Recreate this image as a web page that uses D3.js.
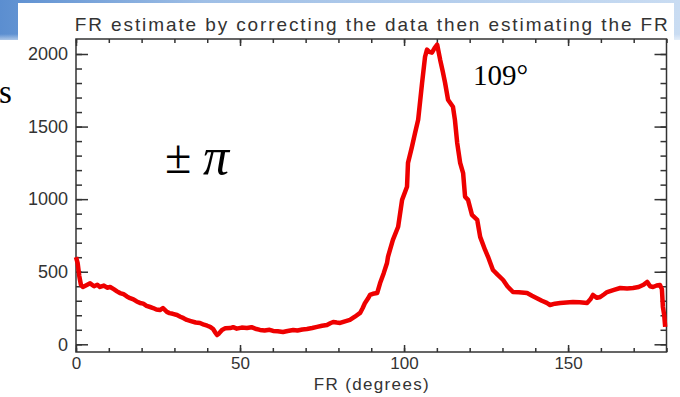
<!DOCTYPE html>
<html>
<head>
<meta charset="utf-8">
<script src="https://cdn.jsdelivr.net/npm/d3@7"></script>
<style>
  body { margin: 0; background: #fff; }
  svg { display: block; }
</style>
</head>
<body>
<svg id="chart"></svg>
<script>
// Data
let frDegrees = [0, 0.5, 1.0, 1.5, 2.1, 3, 4.3, 5.5, 6.5, 7.3, 8.5, 9.5, 10.4, 11.5, 12.5, 13.4, 14.5, 15.5, 16.5, 17.5,
  18.5, 19.5, 20.5, 21.5, 22.6, 23.5, 24.5, 25.6, 26.5, 27.7, 28.5, 29.5, 30.8, 31.8, 32.8, 33.8, 35, 36.5, 37.8, 39,
  40, 40.9, 41.8, 42.5, 43, 43.6, 44.5, 45.5, 47, 47.9, 49, 50.5, 52.1, 53.5, 55, 56.1, 57.5, 59, 60.1, 61.5,
  63.1, 64.5, 66.2, 67.5, 69, 70.4, 72, 73.5, 75, 76.5, 77.5, 78.4, 79.5, 80.5, 82, 83.5, 85, 86.6, 87.4, 88.1,
  89, 89.6, 90.5, 91.8, 92.7, 93.8, 94.8, 95.1, 96.6, 98.2, 99.4, 100.9, 101.2, 102.4, 103.3, 104.3, 105.5, 106.4, 107, 107.7,
  108.5, 109.3, 110.1, 111, 111.8, 112.5, 113.4, 114.9, 115.5, 116.2, 117.1, 118, 118.6, 119.5, 120.7, 122.3, 123.2, 124.7, 125.6, 126.3,
  127.1, 128.5, 130.2, 131.5, 133.2, 135, 137.5, 139, 140.5, 142, 143.5, 144.5, 146, 147.6, 149.5, 151.5, 153.5, 155.8, 156.8, 157.6,
  158.8, 159.8, 161, 161.9, 164, 165.9, 168, 169.8, 171.5, 173, 174.1, 175, 175.9, 177, 178, 178.6, 178.9, 179.3, 179.6];
let counts = [600, 560, 470, 410, 395, 405, 420, 400, 410, 395, 405, 390, 395, 380, 365, 353, 345, 330, 318, 310,
  295, 285, 280, 265, 257, 250, 240, 236, 250, 223, 215, 210, 202, 190, 180, 168, 160, 150, 147, 135,
  128, 120, 105, 80, 64, 75, 99, 110, 112, 118, 108, 115, 112, 118, 105, 99, 95, 100, 92, 90,
  85, 92, 99, 95, 102, 105, 112, 120, 128, 133, 145, 154, 150, 147, 158, 168, 190, 216, 250, 285,
  315, 340, 348, 353, 422, 490, 560, 603, 720, 810, 995, 1085, 1250, 1360, 1450, 1547, 1802, 1981, 2030, 2015,
  2009, 2040, 2064, 1961, 1880, 1802, 1685, 1637, 1547, 1387, 1250, 1180, 1017, 995, 892, 857, 740, 650, 603, 560,
  512, 480, 443, 400, 360, 358, 353, 335, 318, 300, 285, 271, 280, 285, 288, 292, 290, 285, 310, 340,
  320, 326, 345, 360, 375, 388, 385, 388, 395, 410, 430, 400, 395, 405, 409, 380, 257, 200, 120];

let xMajor = [0, 50, 100, 150];
let xMinor = d3.range(0, 181, 10);
let yMajor = [0, 500, 1000, 1500, 2000];
let yMinor = d3.range(0, 2001, 100);

let titleText = 'FR estimate by correcting the data then estimating the FR';
let xTitle = 'FR (degrees)';

let width = 680, height = 397;
let plotLeft = 76, plotRight = 666.5, plotTop = 39, plotBottom = 352;

let svg = d3.select('#chart').attr('width', width).attr('height', height);

// slide header band behind the chart picture
let defs = svg.append('defs');
let hg = defs.append('linearGradient').attr('id', 'band').attr('x1', 0).attr('x2', 1).attr('y1', 0).attr('y2', 0);
hg.append('stop').attr('offset', 0).attr('stop-color', '#5b8ed0');
hg.append('stop').attr('offset', 0.3).attr('stop-color', '#9fbfe6');
hg.append('stop').attr('offset', 1).attr('stop-color', '#c9dcf2');
let vg = defs.append('linearGradient').attr('id', 'fade').attr('x1', 0).attr('x2', 0).attr('y1', 0).attr('y2', 1);
vg.append('stop').attr('offset', 0).attr('stop-color', '#fff').attr('stop-opacity', 0);
vg.append('stop').attr('offset', 1).attr('stop-color', '#fff').attr('stop-opacity', 1);

svg.append('rect').attr('x', 0).attr('y', 0).attr('width', width).attr('height', 40).attr('fill', 'url(#band)');
svg.append('rect').attr('x', 0).attr('y', 34).attr('width', width).attr('height', 12).attr('fill', 'url(#fade)');
svg.append('rect').attr('x', 18).attr('y', 3).attr('width', 656).attr('height', height).attr('fill', '#fff');

// scales
let x = d3.scaleLinear().domain([0, 180]).range([plotLeft, plotRight]);
let y = d3.scaleLinear().domain([0, 2000]).range([344.3, 54]);

let axisColor = '#333';
let labelFont = '"Liberation Sans", Arial, sans-serif';

function styleTicks(g) {
  g.select('.domain').remove();
  g.selectAll('line').attr('stroke', axisColor).attr('stroke-width', 1.5);
}

// inner ticks on all four sides
svg.append('g').attr('transform', `translate(0,${plotBottom})`)
  .call(d3.axisBottom(x).tickValues(xMinor).tickSize(-4).tickFormat('')).call(styleTicks);
svg.append('g').attr('transform', `translate(0,${plotBottom})`)
  .call(d3.axisBottom(x).tickValues(xMajor).tickSize(-7).tickFormat('')).call(styleTicks);
svg.append('g').attr('transform', `translate(0,${plotTop})`)
  .call(d3.axisTop(x).tickValues(xMinor).tickSize(-4).tickFormat('')).call(styleTicks);
svg.append('g').attr('transform', `translate(0,${plotTop})`)
  .call(d3.axisTop(x).tickValues(xMajor).tickSize(-7).tickFormat('')).call(styleTicks);
svg.append('g').attr('transform', `translate(${plotLeft},0)`)
  .call(d3.axisLeft(y).tickValues(yMinor).tickSize(-6).tickFormat('')).call(styleTicks);
svg.append('g').attr('transform', `translate(${plotLeft},0)`)
  .call(d3.axisLeft(y).tickValues(yMajor).tickSize(-12).tickFormat('')).call(styleTicks);
svg.append('g').attr('transform', `translate(${plotRight},0)`)
  .call(d3.axisRight(y).tickValues(yMinor).tickSize(-6).tickFormat('')).call(styleTicks);
svg.append('g').attr('transform', `translate(${plotRight},0)`)
  .call(d3.axisRight(y).tickValues(yMajor).tickSize(-12).tickFormat('')).call(styleTicks);

// tick labels
let xLab = svg.append('g').attr('transform', `translate(0,${plotBottom})`)
  .call(d3.axisBottom(x).tickValues(xMajor).tickSize(0).tickPadding(5).tickFormat(d3.format('d')));
xLab.select('.domain').remove();
xLab.selectAll('text').attr('font-family', labelFont).attr('font-size', 17).attr('fill', axisColor);

let yLab = svg.append('g').attr('transform', `translate(${plotLeft},0)`)
  .call(d3.axisLeft(y).tickValues(yMajor).tickSize(0).tickPadding(8).tickFormat(d3.format('d')));
yLab.select('.domain').remove();
yLab.selectAll('text').attr('font-family', labelFont).attr('font-size', 18).attr('fill', axisColor);

// frame
svg.append('rect').attr('x', plotLeft).attr('y', plotTop)
  .attr('width', plotRight - plotLeft).attr('height', plotBottom - plotTop)
  .attr('fill', 'none').attr('stroke', axisColor).attr('stroke-width', 1.5);

// data line
let line = d3.line().x((d, i) => x(frDegrees[i])).y((d) => y(d));
svg.append('path').datum(counts)
  .attr('d', line)
  .attr('fill', 'none')
  .attr('stroke', '#ee0000')
  .attr('stroke-width', 4.5)
  .attr('stroke-linejoin', 'round');

// titles
svg.append('text').attr('x', (plotLeft + plotRight) / 2).attr('y', 31)
  .attr('text-anchor', 'middle').attr('font-family', labelFont).attr('font-size', 19)
  .attr('fill', axisColor).attr('textLength', 593).attr('lengthAdjust', 'spacing')
  .text(titleText);
svg.append('text').attr('x', (plotLeft + plotRight) / 2).attr('y', 390)
  .attr('text-anchor', 'middle').attr('font-family', labelFont).attr('font-size', 17)
  .attr('fill', axisColor).attr('textLength', 115).attr('lengthAdjust', 'spacing')
  .text(xTitle);

// slide annotations
let serif = '"Liberation Serif", "Times New Roman", serif';
svg.append('text').attr('x', 473).attr('y', 85).attr('font-family', serif).attr('font-size', 29)
  .attr('fill', '#000').text('109°');
svg.append('text').attr('x', 165).attr('y', 173).attr('font-family', serif).attr('font-size', 48)
  .attr('fill', '#000').text('±');
svg.append('text').attr('x', 203).attr('y', 174).attr('font-family', serif).attr('font-size', 52)
  .attr('font-style', 'italic').attr('fill', '#000').text('π');
svg.append('text').attr('x', -1).attr('y', 103).attr('font-family', serif).attr('font-size', 33)
  .attr('fill', '#000').text('s');
</script>
</body>
</html>
